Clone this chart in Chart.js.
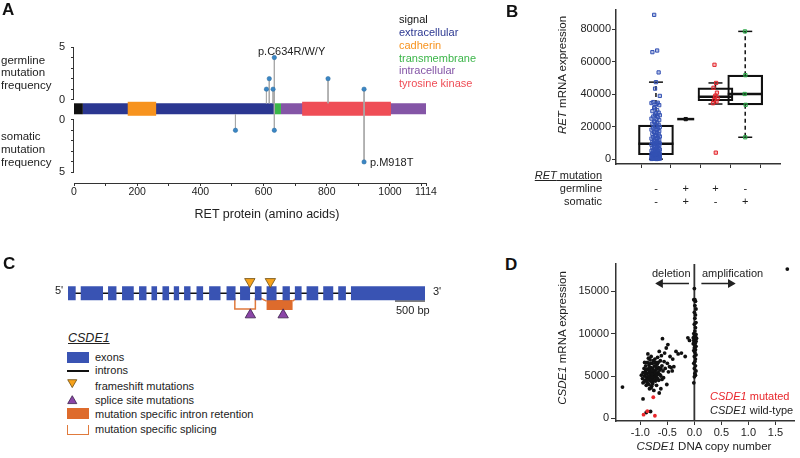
<!DOCTYPE html>
<html lang="en">
<head>
<meta charset="UTF-8">
<title>RET and CSDE1 mutations</title>
<script src="https://cdn.jsdelivr.net/npm/chart.js"></script>
<style>
  html, body { margin: 0; padding: 0; background: #fff; }
  body { width: 800px; height: 458px; position: relative; overflow: hidden;
         font-family: 'Liberation Sans', Arial, sans-serif; color: #222; }
  canvas { position: absolute; }
  .t { position: absolute; font-size: 11px; line-height: 13px; white-space: nowrap; }
  .panel { position: absolute; font-size: 17px; line-height: 17px; font-weight: bold; color: #111; }
  .rot { transform: translate(-50%, -50%) rotate(-90deg); }
  .ctr { transform: translateX(-50%); }
  .right { text-align: right; }
  .sw { position: absolute; }
</style>
</head>
<body>
  <canvas id="chartA" width="460" height="230" style="left:0;top:0"></canvas>
  <canvas id="chartB" width="280" height="225" style="left:520px;top:-10px"></canvas>
  <canvas id="chartC" width="380" height="62" style="left:58px;top:268px"></canvas>
  <canvas id="chartD" width="280" height="200" style="left:520px;top:255px"></canvas>

  <!-- A -->
  <div class="panel" style="left:2px;top:1px">A</div>
  <div class="t" style="left:1px;top:54px;font-size:11.5px;line-height:12.3px">germline<br>mutation<br>frequency</div>
  <div class="t" style="left:1px;top:130px;font-size:11.5px;line-height:12.9px">somatic<br>mutation<br>frequency</div>
  <div class="t" style="left:399px;top:13px;line-height:12.85px">
    <span style="color:#111">signal</span><br>
    <span style="color:#2b3791">extracellular</span><br>
    <span style="color:#f7931e">cadherin</span><br>
    <span style="color:#3cb64a">transmembrane</span><br>
    <span style="color:#8455a6">intracellular</span><br>
    <span style="color:#ef4d56">tyrosine kinase</span>
  </div>
  <div class="t" style="left:258px;top:45px">p.C634R/W/Y</div>
  <div class="t" style="left:370px;top:156px">p.M918T</div>
  <div class="t ctr" style="left:267px;top:207px;font-size:12.5px;line-height:15px">RET protein (amino acids)</div>

  <!-- B -->
  <div class="panel" style="left:506px;top:3px">B</div>
  <div class="t rot" style="left:562px;top:75px;font-size:11.5px"><i>RET</i> mRNA expression</div>
  <div class="t right" style="left:520px;width:82px;top:169px"><span style="text-decoration:underline"><i>RET</i> mutation</span></div>
  <div class="t right" style="left:520px;width:82px;top:182px">germline</div>
  <div class="t right" style="left:520px;width:82px;top:195px">somatic</div>

  <!-- C -->
  <div class="panel" style="left:3px;top:255px">C</div>
  <div class="t" style="left:55px;top:284px">5'</div>
  <div class="t" style="left:433px;top:285px">3'</div>
  <div class="t" style="left:396px;top:304px">500 bp</div>
  <div class="t" style="left:68px;top:331px;font-size:12.5px;line-height:14px"><i style="text-decoration:underline">CSDE1</i></div>
  <div class="sw" style="left:67px;top:352px;width:22px;height:11px;background:#3953b3"></div>
  <div class="sw" style="left:67px;top:370px;width:22px;height:1.5px;background:#111"></div>
  <svg class="sw" style="left:67px;top:379px" width="11" height="10"><polygon points="0.7,0.7 9.8,0.7 5.25,8.6" fill="#f7a21b" stroke="#6b4d12" stroke-width="0.8"/></svg>
  <svg class="sw" style="left:67px;top:395px" width="11" height="10"><polygon points="5.25,0.7 9.8,8.6 0.7,8.6" fill="#8b46a8" stroke="#3a1f4a" stroke-width="0.8"/></svg>
  <div class="sw" style="left:67px;top:408px;width:22px;height:11px;background:#de6b2c"></div>
  <div class="sw" style="left:67px;top:425px;width:19.5px;height:8.5px;border:1.5px solid #e07a3c;border-top:none"></div>
  <div class="t" style="left:95px;top:351px">exons</div>
  <div class="t" style="left:95px;top:364px">introns</div>
  <div class="t" style="left:95px;top:380px">frameshift mutations</div>
  <div class="t" style="left:95px;top:394px">splice site mutations</div>
  <div class="t" style="left:95px;top:408px">mutation specific intron retention</div>
  <div class="t" style="left:95px;top:423px">mutation specific splicing</div>

  <!-- D -->
  <div class="panel" style="left:505px;top:256px">D</div>
  <div class="t rot" style="left:562px;top:338px;font-size:11.5px"><i>CSDE1</i> mRNA expression</div>
  <div class="t ctr" style="left:704px;top:440px;font-size:11.5px"><i>CSDE1</i> DNA copy number</div>
  <div class="t" style="left:652px;top:267px">deletion</div>
  <div class="t" style="left:702px;top:267px">amplification</div>
  <div class="t" style="left:710px;top:390px;color:#e8262b"><i>CSDE1</i> mutated</div>
  <div class="t" style="left:710px;top:404px"><i>CSDE1</i> wild-type</div>

<script>
  // ---------- A: RET protein domains and mutations ----------
  const retLength = 1114;
  const domainNames = ['signal', 'extracellular', 'transmembrane', 'intracellular', 'cadherin', 'tyrosine kinase'];
  const domainStart = [0, 28, 635, 655, 170, 722];
  const domainEnd = [28, 635, 655, 1114, 260, 1003];
  const germlinePos = [609, 618, 630, 634, 804, 918];
  const germlineFreq = [1, 2, 1, 4, 2, 1];
  const somaticPos = [511, 634, 918];
  const somaticFreq = [1, 1, 4];
  const xTicksA = [0, 100, 200, 300, 400, 500, 600, 700, 800, 900, 1000, 1100, 1114];
  const freqTicks = [0, 1, 2, 3, 4, 5];

  // ---------- B: RET expression by mutation status ----------
  const groupX = [1, 2, 3, 4];
  const groupGermline = ['-', '+', '+', '-'];
  const groupSomatic = ['-', '+', '-', '+'];
  const exprNone = [
    89000, 67000, 66000, 53500, 47500, 43500, 39000, 35200, 34800, 34600, 34100, 33300, 32100, 31400, 30200,
    29600, 28700, 28300, 27400, 27100, 26300, 25900, 25000, 24800, 24100, 23300, 23000, 22400, 21900, 21200,
    20600, 20100, 19800, 19100, 18700, 18200, 17900, 17300, 16800, 16500, 16100, 15600, 15200, 14900, 14300,
    14000, 13600, 13100, 12700, 12400, 12000, 11500, 11300, 10900, 10600, 10200, 10000, 9800, 9700, 9500,
    9300, 8900, 8600, 8200, 8000, 7700, 7300, 7000, 6800, 6400, 6100, 5900, 5600, 5300, 5100,
    4900, 4600, 4400, 4100, 3900, 3700, 3500, 3300, 3200, 3100, 2950, 2850, 2800, 2750, 2700,
    2600, 2450, 2300, 2200, 2050, 1900, 1800, 1700, 1550, 1400, 1300, 1200, 1050, 950, 850,
    700, 600, 500, 420, 350, 300, 220, 150, 100, 60
  ];
  const exprBoth = [24700];
  const exprGermline = [58200, 47000, 44000, 41000, 39200, 38500, 37500, 36300, 35500, 34500, 4000];
  const exprSomatic = [78800, 51800, 40200, 33500, 13500];
  const boxQ1 = [2700, 24700, 36000, 33500];
  const boxMedian = [9500, 24700, 38500, 40200];
  const boxQ3 = [21000, 24700, 44000, 51800];
  const whiskerLow = [0, 24700, 34000, 13500];
  const whiskerHigh = [47500, 24700, 47000, 78800];
  const yTicksB = [0, 20000, 40000, 60000, 80000];

  // ---------- C: CSDE1 gene model (bp) ----------
  const geneLength = 5945;
  const exonStart = [0, 212, 667, 900, 1183, 1390, 1573, 1762, 1933, 2140, 2350, 2640, 2865, 3112, 3307, 3573, 3778, 3973, 4250, 4500, 4712];
  const exonEnd = [128, 583, 807, 1095, 1307, 1483, 1683, 1850, 2040, 2250, 2540, 2790, 3032, 3223, 3473, 3695, 3890, 4167, 4417, 4628, 5945];
  const frameshiftPos = [3028, 3370];
  const spliceSitePos = [3037, 3583];
  const skippedJunction = [2778, 3120];
  const retainedIntron = [3307, 3740];
  const retentionLinks = [[3207, 3307], [3807, 3740]];
  const scaleBar = [5445, 5945];

  // ---------- D: CSDE1 copy number vs expression ----------
  const wildTypePoints = [
    [-1.33, 3700], [-0.95, 2300], [-0.81, 820], [-0.89, 700],
    [-0.98, 5100], [-0.96, 4700], [-0.95, 5400], [-0.93, 4300], [-0.93, 5900], [-0.92, 5000], [-0.91, 4500],
    [-0.90, 5600], [-0.90, 6200], [-0.89, 3900], [-0.88, 4800], [-0.88, 5300], [-0.87, 6600], [-0.87, 4200],
    [-0.86, 5800], [-0.86, 5000], [-0.85, 7100], [-0.85, 4600], [-0.84, 5400], [-0.84, 6300], [-0.83, 3500],
    [-0.83, 4900], [-0.82, 5700], [-0.82, 6900], [-0.81, 4400], [-0.81, 5200], [-0.80, 6000], [-0.80, 4700],
    [-0.80, 7300], [-0.79, 3800], [-0.79, 5500], [-0.78, 6500], [-0.78, 4300], [-0.77, 5000], [-0.77, 5900],
    [-0.76, 6800], [-0.76, 4600], [-0.75, 5300], [-0.75, 3300], [-0.74, 6200], [-0.74, 4900], [-0.73, 7000],
    [-0.73, 5600], [-0.72, 4400], [-0.72, 6600], [-0.71, 5100], [-0.70, 5800], [-0.70, 3900], [-0.69, 6400],
    [-0.68, 4700], [-0.68, 7200], [-0.67, 5400], [-0.66, 6000], [-0.65, 7900], [-0.65, 3000], [-0.64, 5700],
    [-0.63, 6800], [-0.62, 5000], [-0.61, 7400], [-0.60, 6200], [-0.59, 9400], [-0.58, 5600], [-0.57, 4800],
    [-0.56, 6700], [-0.55, 7700], [-0.54, 5900], [-0.52, 8300], [-0.51, 4000], [-0.50, 6500], [-0.49, 8700],
    [-0.48, 5500], [-0.46, 6100], [-0.45, 7300], [-0.43, 6000], [-0.41, 5600], [-0.40, 7000], [-0.38, 6100],
    [-0.34, 7900], [-0.30, 7600], [-0.24, 7700], [-0.17, 7300], [-0.12, 9500], [-0.09, 9200],
    [-0.91, 5300], [-0.89, 5800], [-0.87, 4500], [-0.84, 4000], [-0.83, 6000], [-0.81, 6500], [-0.79, 4900],
    [-0.78, 5200], [-0.77, 4100], [-0.76, 5600], [-0.74, 4500], [-0.72, 5400], [-0.71, 6100], [-0.69, 5100],
    [-0.67, 6600], [-0.66, 4500], [-0.64, 5200], [-0.62, 5900], [-0.60, 4600], [-0.95, 4200], [-0.92, 6600],
    [-0.86, 7600], [-0.80, 3600], [-0.70, 4700], [-0.62, 3500],
    [0.00, 15300], [0.01, 14000], [-0.01, 14000], [0.02, 13800], [0.01, 13300], [0.03, 12900], [0.00, 12500],
    [0.02, 12200], [0.01, 11800], [0.03, 11300], [0.00, 11100], [0.02, 10700], [0.01, 10300], [-0.01, 10000],
    [0.03, 9900], [0.00, 9700], [0.02, 9600], [-0.02, 9500], [0.04, 9450], [0.01, 9300], [-0.01, 9200],
    [0.03, 9100], [0.00, 9000], [0.02, 8900], [-0.02, 8800], [0.01, 8600], [0.03, 8500], [0.00, 8300],
    [0.02, 8100], [-0.01, 8000], [0.01, 7800], [0.03, 7500], [0.00, 7300], [0.02, 7000], [0.01, 6700],
    [-0.01, 6500], [0.02, 6200], [0.00, 5900], [0.03, 5600], [0.01, 5300], [0.02, 5100], [0.00, 4900],
    [-0.01, 4200], [1.72, 17600]
  ];
  const mutatedPoints = [[-0.76, 2500], [-0.94, 450], [-0.87, 850], [-0.73, 320]];
  const xTicksD = [-1, -0.5, 0, 0.5, 1, 1.5];
  const yTicksD = [0, 5000, 10000, 15000];
  const deletionArrow = [-0.1, -0.63];
  const amplificationArrow = [0.13, 0.67];
  const arrowLevel = 15900;

  // ---------- shared ----------
  Chart.defaults.font.family = "'Liberation Sans', Arial, sans-serif";
  Chart.defaults.font.size = 11;
  Chart.defaults.color = '#222';
  Chart.defaults.animation = false;
  Chart.defaults.responsive = false;
  Chart.defaults.events = [];
  Chart.defaults.plugins.legend.display = false;
  Chart.defaults.plugins.tooltip.enabled = false;

  const axisColor = '#333';

  function segment(x0, y0, x1, y1, color, width, order, extra) {
    return Object.assign({
      data: [{ x: x0, y: y0 }, { x: x1, y: y1 }],
      showLine: true, pointRadius: 0, borderColor: color, borderWidth: width,
      borderCapStyle: 'butt', order: order
    }, extra || {});
  }

  // ----------- A ------------
  const GAP = 1.9;          // space between germline and somatic axes
  const BAR_Y = -0.86;      // centre of the protein bar
  const BAR_HALF = 0.52;
  const domainColors = ['#111111', '#2b3791', '#3cb64a', '#8455a6', '#f7931e', '#ef4d56'];
  const domainThick = [11, 11, 11, 11, 14, 14];

  const yTicksA = freqTicks.map(v => ({ value: v, label: v % 5 === 0 ? String(v) : '' }))
    .concat(freqTicks.map(v => ({ value: -(v + GAP), label: v % 5 === 0 ? String(v) : '' })));

  const datasetsA = [];
  germlinePos.forEach((p, i) => datasetsA.push({
    data: [{ x: p, y: germlineFreq[i] }], pointRadius: 2.2, backgroundColor: '#3b86c4',
    borderColor: '#2c6c9f', borderWidth: 0.5, order: 1
  }));
  somaticPos.forEach((p, i) => datasetsA.push({
    data: [{ x: p, y: -(somaticFreq[i] + GAP) }], pointRadius: 2.2, backgroundColor: '#3b86c4',
    borderColor: '#2c6c9f', borderWidth: 0.5, order: 1
  }));
  const stickPos = [...new Set([...germlinePos, ...somaticPos])];
  stickPos.forEach(p => {
    const gi = germlinePos.indexOf(p);
    const si = somaticPos.indexOf(p);
    const top = gi >= 0 ? germlineFreq[gi] : BAR_Y - BAR_HALF;
    const bottom = si >= 0 ? -(somaticFreq[si] + GAP) : BAR_Y + BAR_HALF;
    datasetsA.push(segment(p, top, p, bottom, '#a9a9a9', 1, 5));
  });
  domainNames.forEach((name, i) => {
    datasetsA.push(segment(domainStart[i], BAR_Y, domainEnd[i], BAR_Y, domainColors[i], domainThick[i],
      domainThick[i] > 11 ? 9 : 10, { label: name }));
  });

  const splitAxisA = {
    id: 'splitAxisA',
    afterDraw(chart) {
      const { ctx, chartArea, scales } = chart;
      const y = scales.y;
      const x = chartArea.left - 0.5;
      ctx.save();
      ctx.strokeStyle = axisColor;
      ctx.lineWidth = 1;
      [[5, 0], [-GAP, -(5 + GAP)]].forEach(([a, b]) => {
        ctx.beginPath();
        ctx.moveTo(x, y.getPixelForValue(a));
        ctx.lineTo(x, y.getPixelForValue(b));
        ctx.stroke();
      });
      ctx.restore();
    }
  };

  new Chart(document.getElementById('chartA'), {
    type: 'scatter',
    data: { datasets: datasetsA },
    options: {
      layout: { padding: { left: 0, top: 47, right: 34, bottom: 0 } },
      scales: {
        x: {
          type: 'linear', min: 0, max: retLength,
          afterBuildTicks: s => { s.ticks = xTicksA.map(v => ({ value: v })); },
          afterFit: s => { s.height = 47; },
          ticks: { autoSkip: false, maxRotation: 0, padding: 0, font: { size: 10.5 },
            callback: v => (v % 200 === 0 || v === retLength) ? String(v) : '' },
          grid: { drawOnChartArea: false, tickLength: 3, color: axisColor },
          border: { display: true, color: axisColor }
        },
        y: {
          type: 'linear', min: -7.9, max: 5,
          afterBuildTicks: s => { s.ticks = yTicksA.map(t => ({ value: t.value })); },
          afterFit: s => { s.width = 74; },
          ticks: { autoSkip: false, padding: 6, callback: (v, i) => yTicksA[i].label },
          grid: { drawOnChartArea: false, tickLength: 3, color: axisColor },
          border: { display: false }
        }
      }
    },
    plugins: [splitAxisA]
  });

  // ----------- B ------------
  const groupColors = ['#3452b4', '#111111', '#e3262c', '#2fa84a'];
  const groupFill = ['rgba(52,82,180,0.35)', 'rgba(17,17,17,0.9)', 'rgba(227,38,44,0.3)', 'rgba(47,168,74,0.35)'];
  const jitter = [-0.06, 0.04, -0.12, 0.09, 0.0, -0.03, 0.13, -0.09, 0.06, -0.15, 0.02, 0.11, -0.05];
  const jitterScale = [1, 0, 0.55, 0.15];
  const groupValues = [exprNone, exprBoth, exprGermline, exprSomatic];
  const medianHalf = [17.5, 8.5, 17.5, 17.5];

  const datasetsB = [];
  groupValues.forEach((vals, g) => datasetsB.push({
    data: vals.map((v, i) => ({ x: groupX[g] + jitter[i % jitter.length] * jitterScale[g], y: v })),
    pointStyle: 'rect', pointRadius: 2.3, borderWidth: 1,
    borderColor: groupColors[g], backgroundColor: groupFill[g], order: 1
  }));
  datasetsB.push({
    data: groupX.map((x, g) => ({ x, y: boxMedian[g] })),
    pointStyle: 'line', pointRadius: medianHalf, borderColor: '#111', borderWidth: 2.5, order: 2
  });
  const caps = [];
  groupX.forEach((x, g) => {
    if (whiskerHigh[g] > boxQ3[g]) caps.push({ x, y: whiskerHigh[g] });
    if (whiskerLow[g] < boxQ1[g]) caps.push({ x, y: whiskerLow[g] });
  });
  datasetsB.push({ data: caps, pointStyle: 'line', pointRadius: 7, borderColor: '#111', borderWidth: 1.5, order: 2 });
  datasetsB.push({
    type: 'bar',
    data: groupX.map((x, g) => ({ x, y: [boxQ1[g], boxQ3[g]] })).filter(d => d.y[1] > d.y[0]),
    backgroundColor: 'rgba(255,255,255,0)', borderColor: '#111', borderWidth: 1.5,
    borderSkipped: false, barThickness: 35, order: 3
  });
  groupX.forEach((x, g) => {
    if (whiskerHigh[g] > boxQ3[g]) datasetsB.push(segment(x, boxQ3[g], x, whiskerHigh[g], '#111', 1.5, 4, { borderDash: [4, 3] }));
    if (whiskerLow[g] < boxQ1[g]) datasetsB.push(segment(x, boxQ1[g], x, whiskerLow[g], '#111', 1.5, 4, { borderDash: [4, 3] }));
  });

  new Chart(document.getElementById('chartB'), {
    type: 'scatter',
    data: { datasets: datasetsB },
    options: {
      layout: { padding: { left: 0, top: 10, right: 7, bottom: 0 } },
      scales: {
        x: {
          type: 'linear', min: 0.346, max: 4.48,
          afterBuildTicks: s => { s.ticks = groupX.map(v => ({ value: v })); },
          afterFit: s => { s.height = 51; },
          ticks: { autoSkip: false, maxRotation: 0, padding: 14, font: { size: 11, lineHeight: 1.2 },
            callback: (v, i) => [groupGermline[i], groupSomatic[i]] },
          grid: { drawOnChartArea: false, tickLength: 4, color: axisColor },
          border: { display: true, color: axisColor, width: 1.5 }
        },
        y: {
          type: 'linear', min: -3000, max: 92000,
          afterBuildTicks: s => { s.ticks = yTicksB.map(v => ({ value: v })); },
          afterFit: s => { s.width = 96; },
          ticks: { autoSkip: false, padding: 1, callback: v => String(v) },
          grid: { drawOnChartArea: false, tickLength: 4, color: axisColor },
          border: { display: true, color: axisColor, width: 1.5 }
        }
      }
    }
  });

  // ----------- C ------------
  const EXON_W = 14;
  const EXON_BOTTOM = -6.5;
  const datasetsC = [];
  datasetsC.push({
    data: frameshiftPos.map(x => ({ x, y: 14.8 })), pointStyle: 'triangle', rotation: 180,
    pointRadius: 6, backgroundColor: '#f7a21b', borderColor: '#6b4d12', borderWidth: 0.8, order: 1
  });
  datasetsC.push({
    data: spliceSitePos.map(x => ({ x, y: -27.8 })), pointStyle: 'triangle',
    pointRadius: 6, backgroundColor: '#8b46a8', borderColor: '#3a1f4a', borderWidth: 0.8, order: 1
  });
  exonStart.forEach((s, i) => datasetsC.push(segment(s, 0, exonEnd[i], 0, '#3953b3', EXON_W, 3)));
  datasetsC.push(segment(0, 0, geneLength, 0, '#111', 1.5, 6));
  datasetsC.push({
    data: [{ x: skippedJunction[0], y: EXON_BOTTOM }, { x: skippedJunction[0], y: -20.2 },
           { x: skippedJunction[1], y: -20.2 }, { x: skippedJunction[1], y: EXON_BOTTOM }],
    showLine: true, pointRadius: 0, borderColor: '#e07a3c', borderWidth: 1.5, order: 4
  });
  datasetsC.push(segment(retainedIntron[0], -15.2, retainedIntron[1], -15.2, '#de6b2c', 10, 4));
  retentionLinks.forEach(l => datasetsC.push(segment(l[0], EXON_BOTTOM, l[1], -10.2, '#e07a3c', 1.5, 4)));
  datasetsC.push(segment(scaleBar[0], -10.2, scaleBar[1], -10.2, '#555', 1.5, 4));

  new Chart(document.getElementById('chartC'), {
    type: 'scatter',
    data: { datasets: datasetsC },
    options: {
      layout: { padding: { left: 10, right: 13, top: 0, bottom: 0 } },
      scales: {
        x: { type: 'linear', min: 0, max: geneLength, display: false },
        y: { type: 'linear', min: -38.5, max: 23.5, display: false }
      }
    }
  });

  // ----------- D ------------
  const yMinD = -300, yMaxD = 18200;
  const datasetsD = [
    { data: mutatedPoints.map(p => ({ x: p[0], y: p[1] })), pointRadius: 1.9, backgroundColor: '#e8262b', borderWidth: 0, order: 1 },
    { data: wildTypePoints.map(p => ({ x: p[0], y: p[1] })), pointRadius: 1.9, backgroundColor: '#111', borderWidth: 0, order: 1 },
    segment(0, yMinD, 0, yMaxD, '#333', 1.8, 3),
    segment(deletionArrow[0], arrowLevel, deletionArrow[1], arrowLevel, '#222', 1.5, 2,
      { pointRadius: [0, 3.6], pointStyle: 'triangle', rotation: 270, backgroundColor: '#222' }),
    segment(amplificationArrow[0], arrowLevel, amplificationArrow[1], arrowLevel, '#222', 1.5, 2,
      { pointRadius: [0, 3.6], pointStyle: 'triangle', rotation: 90, backgroundColor: '#222' })
  ];

  new Chart(document.getElementById('chartD'), {
    type: 'scatter',
    data: { datasets: datasetsD },
    options: {
      layout: { padding: { left: 0, top: 9, right: 4, bottom: 0 } },
      scales: {
        x: {
          type: 'linear', min: -1.45, max: 1.853,
          afterBuildTicks: s => { s.ticks = xTicksD.map(v => ({ value: v })); },
          afterFit: s => { s.height = 34; },
          ticks: { autoSkip: false, maxRotation: 0, padding: 1, callback: v => v.toFixed(1) },
          grid: { drawOnChartArea: false, tickLength: 4, color: axisColor },
          border: { display: true, color: axisColor, width: 1.5 }
        },
        y: {
          type: 'linear', min: yMinD, max: yMaxD,
          afterBuildTicks: s => { s.ticks = yTicksD.map(v => ({ value: v })); },
          afterFit: s => { s.width = 96; },
          ticks: { autoSkip: false, padding: 2, callback: v => String(v) },
          grid: { drawOnChartArea: false, tickLength: 5, color: axisColor },
          border: { display: true, color: axisColor, width: 1.5 }
        }
      }
    }
  });
</script>
</body>
</html>
